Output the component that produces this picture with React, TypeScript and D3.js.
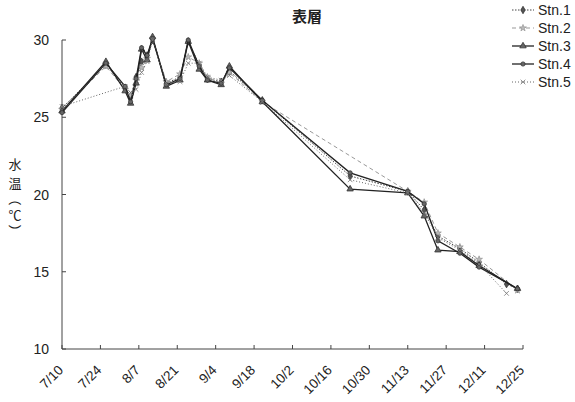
import React from "react";
import * as d3 from "d3";

const DATES = [
  "2000-07-10", "2000-07-26", "2000-08-02", "2000-08-04", "2000-08-06", "2000-08-08",
  "2000-08-10", "2000-08-12", "2000-08-17", "2000-08-22", "2000-08-25", "2000-08-29",
  "2000-09-01", "2000-09-06", "2000-09-09", "2000-09-21", "2000-10-23", "2000-11-13",
  "2000-11-19", "2000-11-24", "2000-12-02", "2000-12-09", "2000-12-19", "2000-12-23",
];

const STN1 = [25.6, 28.4, 26.9, 26.3, 27.6, 28.6, 29.0, 30.0, 27.2, 27.6, 29.9, 28.4, 27.5, 27.3, 28.0, 26.1, 21.2, 20.2, 19.0, 17.3, 16.5, 15.6, 14.2, 13.9];
const STN2 = [25.5, 28.3, 26.8, 26.4, 27.4, 28.2, 28.8, 30.1, 27.3, 27.8, 28.9, 28.5, 27.6, 27.2, 27.9, 26.0, null, 20.2, 19.5, 17.5, 16.6, 15.8, null, 13.8];
const STN3 = [25.4, 28.6, 26.7, 25.9, 27.2, 29.4, 28.7, 30.2, 27.0, 27.4, 29.9, 28.1, 27.4, 27.1, 28.3, 26.0, 20.35, 20.1, 18.6, 16.4, 16.3, 15.4, null, 13.9];
const STN4 = [25.3, 28.5, 27.0, 26.0, 27.5, 29.5, 29.0, 30.1, 27.1, 27.5, 30.0, 28.3, 27.4, 27.2, 28.2, 26.1, 21.4, 20.2, 19.4, 17.0, 16.2, 15.3, null, 13.9];
const STN5 = [25.7, null, 27.0, 26.6, 26.8, 27.9, 28.6, 30.0, 27.2, 27.3, 28.5, 28.5, 27.6, 27.4, 27.7, 26.0, 20.95, 20.1, 18.8, 17.2, 16.4, 15.5, 13.6, null];

const SERIES_NAMES = ["Stn.1", "Stn.2", "Stn.3", "Stn.4", "Stn.5"];
const SERIES_VALUES = [STN1, STN2, STN3, STN4, STN5];

const X_TICKS = ["2000-07-10", "2000-07-24", "2000-08-07", "2000-08-21", "2000-09-04", "2000-09-18", "2000-10-02", "2000-10-16", "2000-10-30", "2000-11-13", "2000-11-27", "2000-12-11", "2000-12-25"];
const Y_TICKS = [10, 15, 20, 25, 30];

const TITLE = "表層";
const Y_LABEL = ["水", "温", "（", "℃", "）"];

const STYLES = [
  { stroke: "#444", dash: "1.5,1.5", width: 1, symbol: d3.symbolDiamond, size: 16, fill: "#555", mstroke: "#333" },
  { stroke: "#999", dash: "4,3", width: 1, symbol: d3.symbolStar, size: 14, fill: "#bbb", mstroke: "#999" },
  { stroke: "#222", dash: null, width: 1.3, symbol: d3.symbolTriangle, size: 18, fill: "#666", mstroke: "#333" },
  { stroke: "#222", dash: null, width: 1.3, symbol: d3.symbolCircle, size: 14, fill: "#666", mstroke: "#333" },
  { stroke: "#666", dash: "1,2", width: 1, symbol: d3.symbolX, size: 16, fill: "none", mstroke: "#777" },
];

const parse = d3.utcParse("%Y-%m-%d");
const fmt = d3.utcFormat("%-m/%-d");

export default function App() {
  const W = 575, H = 402;
  const x = d3.scaleUtc().domain([parse("2000-07-10")!, parse("2000-12-25")!]).range([62, 523]);
  const y = d3.scaleLinear().domain([10, 30]).range([349, 40]);
  const font = "'Liberation Sans', Arial, sans-serif";
  const cjk = "'Noto Sans CJK JP', sans-serif";

  const line = d3.line<[Date, number]>().x(d => x(d[0])).y(d => y(d[1]));

  return (
    <svg width={W} height={H} style={{ position: "absolute", left: 0, top: 0, background: "#fff" }}>
      <text x={307} y={22} textAnchor="middle" fontFamily={cjk} fontWeight="bold" fontSize={15} fill="#222">{TITLE}</text>

      {/* axes */}
      <line x1={62} x2={62} y1={y(30)} y2={y(10)} stroke="#444" strokeWidth={1} />
      <line x1={62} x2={523} y1={y(10)} y2={y(10)} stroke="#444" strokeWidth={1} />
      {Y_TICKS.map(t => (
        <g key={t}>
          <line x1={62} x2={66} y1={y(t)} y2={y(t)} stroke="#444" />
          <text x={49} y={y(t) + 5} textAnchor="end" fontFamily={font} fontSize={14} fill="#222">{t}</text>
        </g>
      ))}
      {X_TICKS.map(s => {
        const d = parse(s)!;
        const px = x(d);
        return (
          <g key={s}>
            <line x1={px} x2={px} y1={y(10)} y2={y(10) - 4} stroke="#444" />
            <text transform={`translate(${px + 2},${y(10) + 22}) rotate(-45)`} textAnchor="end" fontFamily={font} fontSize={13.5} fill="#222">{fmt(d)}</text>
          </g>
        );
      })}

      {/* y label */}
      {Y_LABEL.map((c, i) => {
        const ys = [163, 182, 199, 214, 231];
        const rot = c === "（" || c === "）";
        return (
          <text key={i} transform={`translate(15,${ys[i]})${rot ? " rotate(90)" : ""}`} textAnchor="middle" dominantBaseline="central" fontFamily={cjk} fontSize={13} fill="#222">{c}</text>
        );
      })}

      {/* series */}
      {SERIES_VALUES.map((vals, si) => {
        const st = STYLES[si];
        const pts: [Date, number][] = [];
        vals.forEach((v, i) => { if (v != null) pts.push([parse(DATES[i])!, v as number]); });
        const sym = d3.symbol().type(st.symbol).size(st.size);
        return (
          <g key={si}>
            <path d={line(pts) || ""} fill="none" stroke={st.stroke} strokeWidth={st.width} strokeDasharray={st.dash || undefined} />
            {pts.map((p, i) => (
              <path key={i} d={sym() || ""} transform={`translate(${x(p[0])},${y(p[1])})`} fill={st.fill} stroke={st.mstroke} strokeWidth={0.8} />
            ))}
          </g>
        );
      })}

      {/* legend */}
      {SERIES_NAMES.map((n, i) => {
        const st = STYLES[i];
        const ly = 10 + i * 18;
        const sym = d3.symbol().type(st.symbol).size(st.size);
        return (
          <g key={n}>
            <line x1={512} x2={534} y1={ly} y2={ly} stroke={st.stroke} strokeWidth={st.width} strokeDasharray={st.dash || undefined} />
            <path d={sym() || ""} transform={`translate(523,${ly})`} fill={st.fill} stroke={st.mstroke} strokeWidth={0.8} />
            <text x={538} y={ly + 5} fontFamily={font} fontSize={14} fill="#222">{n}</text>
          </g>
        );
      })}
    </svg>
  );
}
